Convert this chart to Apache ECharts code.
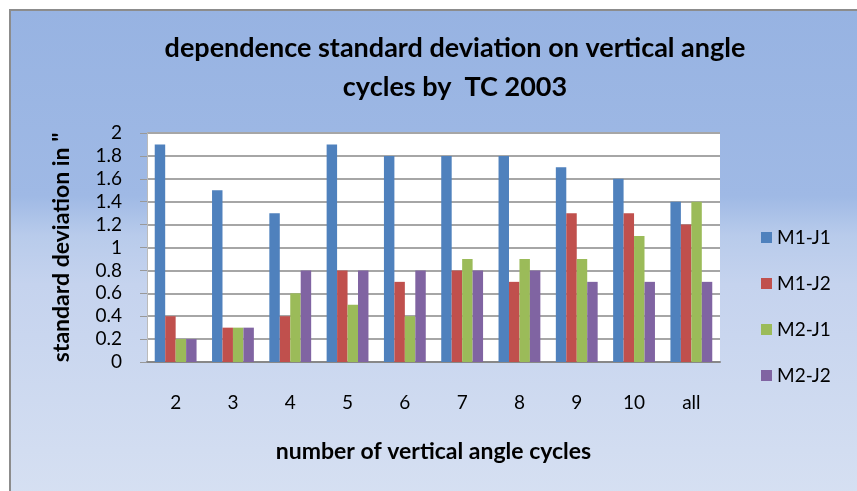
<!DOCTYPE html>
<html>
<head>
<meta charset="utf-8">
<script src="https://cdn.jsdelivr.net/npm/echarts@6/dist/echarts.min.js"></script>
<style>
  html, body { margin: 0; padding: 0; background: #fff; }
  #chart { width: 857px; height: 491px; }
</style>
</head>
<body>
<div id="chart"></div>
<script>
  // data
  const cycles = ['2', '3', '4', '5', '6', '7', '8', '9', '10', 'all']
  const m1j1 = [1.9, 1.5, 1.3, 1.9, 1.8, 1.8, 1.8, 1.7, 1.6, 1.4]
  const m1j2 = [0.4, 0.3, 0.4, 0.8, 0.7, 0.8, 0.7, 1.3, 1.3, 1.2]
  const m2j1 = [0.2, 0.3, 0.6, 0.5, 0.4, 0.9, 0.9, 0.9, 1.1, 1.4]
  const m2j2 = [0.2, 0.3, 0.8, 0.8, 0.8, 0.8, 0.8, 0.7, 0.7, 0.7]

  const font = 'Lato'
  const chart = echarts.init(document.getElementById('chart'))

  const bar = (name, data, color) => ({
    name,
    type: 'bar',
    data,
    barGap: '0%',
    barCategoryGap: '27%',
    itemStyle: { color },
    animation: false
  })

  chart.setOption({
    backgroundColor: '#fff',
    textStyle: { fontFamily: font },
    graphic: [{
      type: 'rect',
      z: -10,
      shape: { x: 10, y: 10, width: 860, height: 490 },
      style: {
        fill: new echarts.graphic.LinearGradient(0, 0, 0, 1, [
          { offset: 0, color: '#97b3e2' },
          { offset: 0.38, color: '#9fb9e5' },
          { offset: 0.46, color: '#b8cbeb' },
          { offset: 0.56, color: '#c5d3ee' },
          { offset: 1, color: '#d6e0f2' }
        ]),
        stroke: '#8c8c8c',
        lineWidth: 2
      }
    }],
    title: {
      text: 'dependence standard deviation on vertical angle\ncycles by  TC 2003',
      left: 450,
      textAlign: 'center',
      top: 24,
      textStyle: { fontSize: 27, fontWeight: 'bold', color: '#000', lineHeight: 39, fontFamily: font }
    },
    legend: {
      orient: 'vertical',
      left: 756,
      top: 223,
      itemWidth: 11,
      itemHeight: 11,
      itemGap: 27,
      icon: 'rect',
      textStyle: { fontSize: 19, color: '#000', fontFamily: font },
      data: ['M1-J1', 'M1-J2', 'M2-J1', 'M2-J2']
    },
    grid: {
      left: 147,
      top: 133,
      right: 137,
      bottom: 129,
      show: true,
      backgroundColor: '#fff',
      borderWidth: 0
    },
    xAxis: {
      type: 'category',
      data: cycles,
      name: 'number of vertical angle cycles',
      nameLocation: 'middle',
      nameGap: 78,
      nameTextStyle: { fontSize: 23, fontWeight: 'bold', color: '#000', fontFamily: font },
      axisLine: { lineStyle: { color: '#888', width: 2 } },
      axisTick: { show: false },
      axisLabel: { fontSize: 19, color: '#000', margin: 31 }
    },
    yAxis: {
      type: 'value',
      min: 0,
      max: 2,
      interval: 0.2,
      name: 'standard deviation in "',
      nameLocation: 'middle',
      nameGap: 74,
      nameTextStyle: { fontSize: 23, fontWeight: 'bold', color: '#000', fontFamily: font },
      axisLine: { show: true, lineStyle: { color: '#bbb' } },
      axisTick: { show: true, length: 7, lineStyle: { color: '#999' } },
      splitLine: { lineStyle: { color: '#a6a6a6', width: 2 } },
      axisLabel: {
        fontSize: 19,
        color: '#000',
        margin: 25,
        formatter: v => String(Math.round(v * 10) / 10)
      }
    },
    series: [
      bar('M1-J1', m1j1, '#4f81bd'),
      bar('M1-J2', m1j2, '#c0504d'),
      bar('M2-J1', m2j1, '#9bbb59'),
      bar('M2-J2', m2j2, '#8064a2')
    ]
  })
</script>
</body>
</html>
